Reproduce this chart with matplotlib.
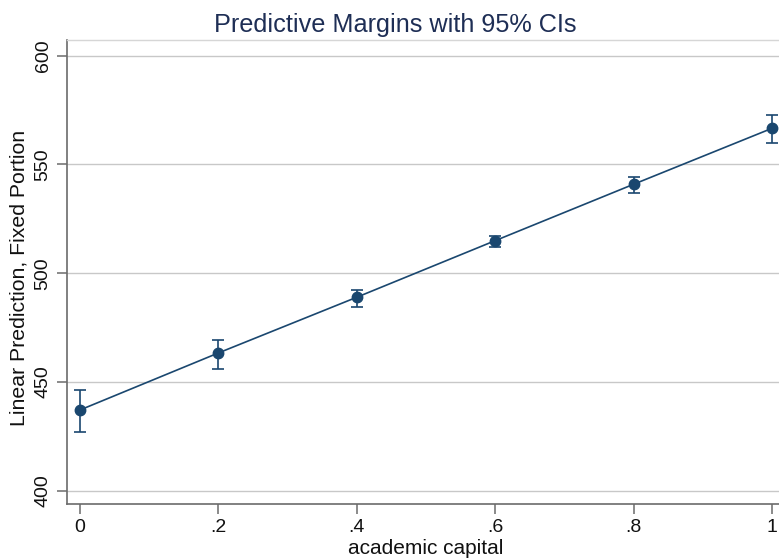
import matplotlib
matplotlib.use("Agg")
import matplotlib.pyplot as plt

plt.rcParams['font.family'] = ['Liberation Sans', 'DejaVu Sans']

# margins at each level of academic capital, with 95% CI bounds
capital = [0, 0.2, 0.4, 0.6, 0.8, 1.0]
margin = [437.2, 463.4, 489.0, 515.0, 540.9, 566.6]
ci_low = [427.0, 456.0, 484.4, 512.3, 536.8, 560.0]
ci_high = [446.4, 469.5, 492.3, 517.2, 544.1, 572.8]

yticks = [400, 450, 500, 550, 600]
xticks = [0, 0.2, 0.4, 0.6, 0.8, 1.0]
xticklabels = ['0', '.2', '.4', '.6', '.8', '1']

navy = '#1a476f'

fig = plt.figure(figsize=(7.79, 5.60), dpi=100)
ax = fig.add_axes([0.086, 0.1, 0.922, 0.8286])

for y in yticks:
    ax.axhline(y, color='#c8c8c8', lw=1.0, zorder=0)

yerr = [[m - lo for m, lo in zip(margin, ci_low)],
        [hi - m for m, hi in zip(margin, ci_high)]]
ax.errorbar(capital, margin, yerr=yerr, fmt='none', ecolor=navy,
            elinewidth=1.2, capsize=4.5, capthick=1.2, zorder=2)
ax.plot(capital, margin, color=navy, lw=1.2, marker='o', markersize=7.5,
        zorder=3)

ax.set_xlim(-0.0188, 1.0192)
ax.set_ylim(394.0, 607.2)
ax.set_xticks(xticks)
ax.set_xticklabels(xticklabels)
ax.set_yticks(yticks)
ax.set_yticklabels([str(v) for v in yticks], rotation=90, va='center')

for side in ['left', 'bottom']:
    ax.spines[side].set_color('#6b6b6b')
    ax.spines[side].set_linewidth(1.2)
for side in ['top', 'right']:
    ax.spines[side].set_color('#d6d6d6')
    ax.spines[side].set_linewidth(1.0)

ax.tick_params(axis='both', length=7, width=1.1, color='#6b6b6b',
               labelsize=14, labelcolor='#111111', pad=4)

ax.set_xlabel('academic capital', fontsize=15, color='#111111', labelpad=2)
ax.set_ylabel('Linear Prediction, Fixed Portion', fontsize=15.3,
              color='#111111')
ax.yaxis.set_label_coords(-0.053, 0.487)
fig.text(0.508, 0.955, 'Predictive Margins with 95% CIs', ha='center',
         va='center', fontsize=18.2, color='#1e2e55')

fig.savefig('out.png', dpi=100)
